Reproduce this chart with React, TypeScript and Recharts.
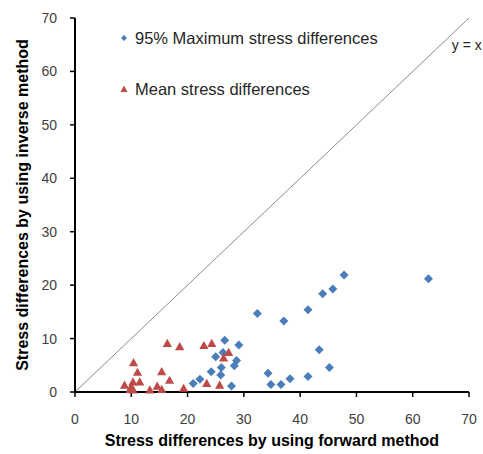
import React from 'react';
import {
  ScatterChart,
  Scatter,
  XAxis,
  YAxis,
  ReferenceLine,
  ReferenceDot,
  Legend,
} from 'recharts';

const maxDiffX = [47.8, 62.8, 45.8, 44.0, 41.4, 32.4, 37.1, 43.4, 45.2, 34.3, 41.4, 38.2, 34.8, 36.6, 26.6, 29.1, 26.3, 25.0, 28.7, 28.3, 26.0, 24.2, 25.9, 22.2, 21.0, 27.8];
const maxDiffY = [21.9, 21.2, 19.3, 18.4, 15.4, 14.7, 13.3, 7.9, 4.6, 3.5, 2.9, 2.5, 1.4, 1.4, 9.7, 8.8, 7.4, 6.6, 5.9, 4.9, 4.6, 3.8, 3.2, 2.4, 1.6, 1.1];

const meanDiffX = [16.4, 18.6, 22.9, 24.3, 27.3, 26.4, 10.4, 11.1, 15.4, 16.8, 11.5, 10.3, 8.8, 9.8, 10.3, 10.0, 13.3, 14.6, 15.4, 19.3, 23.4, 25.7];
const meanDiffY = [9.1, 8.5, 8.7, 9.1, 7.4, 6.4, 5.5, 3.7, 3.8, 2.2, 1.9, 1.9, 1.3, 0.5, 0.4, 1.0, 0.4, 1.1, 0.5, 0.7, 1.6, 1.3];

const axisTicks = [0, 10, 20, 30, 40, 50, 60, 70];
const seriesNames = ['95% Maximum stress differences', 'Mean stress differences'];
const xTitle = 'Stress differences by using forward method';
const yTitle = 'Stress differences by using inverse method';
const identityLabel = 'y = x';

const maxData = maxDiffX.map((x, i) => ({ x, y: maxDiffY[i] }));
const meanData = meanDiffX.map((x, i) => ({ x, y: meanDiffY[i] }));

const BLUE = '#4A7EBB';
const RED = '#BE4B48';
const FONT = '"Liberation Sans", Arial, sans-serif';

const Diamond = (props: any) => {
  const { cx, cy } = props;
  if (cx == null || cy == null) return null;
  const r = 4.5;
  return (
    <polygon
      points={`${cx},${cy - r} ${cx + r},${cy} ${cx},${cy + r} ${cx - r},${cy}`}
      fill={BLUE}
    />
  );
};

const Triangle = (props: any) => {
  const { cx, cy } = props;
  if (cx == null || cy == null) return null;
  const w = 4.6;
  return (
    <polygon
      points={`${cx},${cy - 4.6} ${cx + w},${cy + 3.6} ${cx - w},${cy + 3.6}`}
      fill={RED}
    />
  );
};

const LegendContent = () => (
  <div style={{ fontFamily: FONT, fontSize: 16.5, color: '#262626', lineHeight: '20px' }}>
    <div style={{ display: 'flex', alignItems: 'center', height: 20 }}>
      <svg width={12} height={12} style={{ marginRight: 5 }}>
        <polygon points="6,3 9,6 6,9 3,6" fill={BLUE} />
      </svg>
      <span>{seriesNames[0]}</span>
    </div>
    <div style={{ display: 'flex', alignItems: 'center', height: 20, marginTop: 31 }}>
      <svg width={12} height={12} style={{ marginRight: 5 }}>
        <polygon points="6,2.5 9.5,9 2.5,9" fill={RED} />
      </svg>
      <span>{seriesNames[1]}</span>
    </div>
  </div>
);

export default function App() {
  return (
    <div style={{ position: 'fixed', left: 0, top: 0, width: 483, height: 454, background: '#fff' }}>
      <ScatterChart
        width={483}
        height={454}
        margin={{ top: 18, right: 14, left: 0, bottom: 0 }}
        style={{ fontFamily: FONT }}
      >
        <XAxis
          type="number"
          dataKey="x"
          domain={[0, 70]}
          ticks={axisTicks}
          height={62}
          axisLine={{ stroke: '#000', strokeWidth: 2 }}
          tickLine={{ stroke: '#000', strokeWidth: 1.5 }}
          tickSize={5}
          tickMargin={17}
          tick={{ fontSize: 14, fill: '#404040', fontFamily: FONT }}
          label={{
            value: xTitle,
            position: 'insideBottom',
            offset: 8,
            style: { fontSize: 16, fontWeight: 'bold', fill: '#000', fontFamily: FONT },
          }}
        />
        <YAxis
          type="number"
          dataKey="y"
          domain={[0, 70]}
          ticks={axisTicks}
          width={75}
          axisLine={{ stroke: '#000', strokeWidth: 2 }}
          tickLine={{ stroke: '#000', strokeWidth: 1.5 }}
          tickSize={5}
          tickMargin={13}
          tick={{ fontSize: 14, fill: '#404040', fontFamily: FONT }}
          label={{
            value: yTitle,
            angle: -90,
            position: 'insideLeft',
            offset: 22,
            style: { textAnchor: 'middle', fontSize: 16, fontWeight: 'bold', fill: '#000', fontFamily: FONT },
          }}
        />
        <ReferenceLine
          segment={[{ x: 0, y: 0 }, { x: 70, y: 70 }]}
          stroke="#8c8c8c"
          strokeWidth={1}
        />
        <ReferenceDot
          x={69.6}
          y={64.9}
          r={0}
          fill="none"
          stroke="none"
          ifOverflow="visible"
          label={{ value: identityLabel, position: 'center', fontSize: 14, fill: '#262626', fontFamily: FONT }}
        />
        <Legend
          layout="horizontal"
          verticalAlign="middle"
          align="center"
          content={<LegendContent />}
          wrapperStyle={{ position: 'absolute', left: 118, top: 28, width: 340 }}
        />
        <Scatter
          name={seriesNames[0]}
          data={maxData}
          shape={<Diamond />}
          isAnimationActive={false}
        />
        <Scatter
          name={seriesNames[1]}
          data={meanData}
          shape={<Triangle />}
          isAnimationActive={false}
        />
      </ScatterChart>
    </div>
  );
}
